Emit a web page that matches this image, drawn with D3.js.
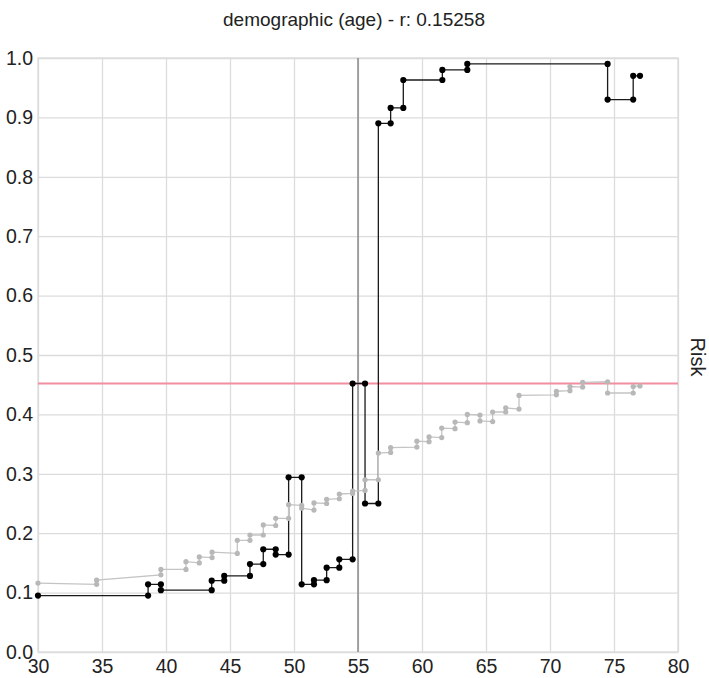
<!DOCTYPE html>
<html>
<head>
<meta charset="utf-8">
<script src="https://cdn.jsdelivr.net/npm/d3@7"></script>
<style>
  body { margin: 0; background: #fff; }
  text { font-family: "Liberation Sans", Arial, Helvetica, sans-serif; }
</style>
</head>
<body>
<div id="chart"></div>
<script>
let title = "demographic (age) - r: 0.15258";
let yLabel = "Risk";

let xTicks = [30, 35, 40, 45, 50, 55, 60, 65, 70, 75, 80];
let yTicks = [0, 0.1, 0.2, 0.3, 0.4, 0.5, 0.6, 0.7, 0.8, 0.9, 1.0];

let threshold = 55;
let baseRisk = 0.452;

// black step series (vertices)
let blackX = [30, 38.6, 38.6, 39.6, 39.6, 43.57, 43.57, 44.55, 44.55, 46.56, 46.56, 47.6, 47.6, 48.57, 48.57,
              49.58, 49.58, 50.6, 50.6, 51.56, 51.56, 52.55, 52.55, 53.54, 53.54, 54.58, 54.58, 55.55, 55.55,
              56.59, 56.59, 57.55, 57.55, 58.54, 58.54, 61.59, 61.59, 63.54, 63.54, 74.5, 74.5, 76.5, 76.5, 77.03];
let blackY = [0.095, 0.095, 0.114, 0.114, 0.104, 0.104, 0.12, 0.12, 0.128, 0.128, 0.148, 0.148, 0.173, 0.173, 0.164,
              0.164, 0.294, 0.294, 0.114, 0.114, 0.121, 0.121, 0.142, 0.142, 0.156, 0.156, 0.452, 0.452, 0.25,
              0.25, 0.89, 0.89, 0.916, 0.916, 0.963, 0.963, 0.98, 0.98, 0.99, 0.99, 0.93, 0.93, 0.97, 0.97];

// grey series (vertices)
let greyX = [30, 34.58, 34.58, 39.6, 39.6, 41.56, 41.56, 42.6, 42.6, 43.6, 43.6, 45.57, 45.57, 46.56, 46.56,
             47.6, 47.6, 48.57, 48.57, 49.58, 49.58, 50.6, 50.6, 51.56, 51.56, 52.55, 52.55, 53.54, 53.54,
             54.58, 54.58, 55.55, 55.55, 56.59, 56.59, 57.55, 57.55, 59.6, 59.6, 60.55, 60.55, 61.54, 61.54,
             62.58, 62.58, 63.54, 63.54, 64.53, 64.53, 65.52, 65.52, 66.54, 66.54, 67.58, 67.58, 70.5, 70.5,
             71.56, 71.56, 72.55, 72.55, 74.5, 74.5, 76.5, 76.5, 77.03];
let greyY = [0.116, 0.114, 0.121, 0.13, 0.139, 0.139, 0.152, 0.15, 0.16, 0.159, 0.168, 0.166, 0.188, 0.188, 0.197,
             0.197, 0.214, 0.213, 0.225, 0.225, 0.248, 0.247, 0.242, 0.239, 0.251, 0.25, 0.257, 0.258, 0.266,
             0.267, 0.271, 0.272, 0.29, 0.29, 0.335, 0.336, 0.344, 0.345, 0.355, 0.354, 0.362, 0.361, 0.377,
             0.376, 0.387, 0.386, 0.4, 0.399, 0.389, 0.388, 0.404, 0.404, 0.411, 0.409, 0.432, 0.433, 0.439,
             0.44, 0.447, 0.446, 0.454, 0.455, 0.436, 0.436, 0.447, 0.448];

let props = {
  width: 709,
  height: 678,
  margins: {t: 58, r: 31, b: 26, l: 38}
};

function draw_series(selection, xs, ys, scales, style){
  let pts = xs.map((x, i) => [x, ys[i]]);
  let line = d3.line()
               .x(d => scales.xScale(d[0]))
               .y(d => scales.yScale(d[1]));

  let g = selection.append("g");
  g.append("path")
   .attr("d", line(pts))
   .attr("fill", "none")
   .attr("stroke", style.line)
   .attr("stroke-width", style.width);

  g.selectAll("circle")
   .data(pts)
   .enter()
   .append("circle")
   .attr("cx", d => scales.xScale(d[0]))
   .attr("cy", d => scales.yScale(d[1]))
   .attr("r", style.r)
   .attr("fill", style.dot);
}

function chart(elem, props){
  let width = props.width - (props.margins.l + props.margins.r);
  let height = props.height - (props.margins.t + props.margins.b);

  let svg = d3.select(elem)
              .append("svg")
              .attr("width", props.width)
              .attr("height", props.height);

  svg.append("rect").attr("width", props.width).attr("height", props.height).attr("fill", "#fff");

  let xScale = d3.scaleLinear().domain([30, 80]).range([0, width]);
  let yScale = d3.scaleLinear().domain([0, 1]).range([height, 0]);

  let root_g = svg.append("g")
                  .attr("transform", `translate(${props.margins.l}, ${props.margins.t})`);

  // grid + axes
  let xAxis = d3.axisBottom(xScale)
                .tickValues(xTicks)
                .tickFormat(d3.format("d"))
                .tickSizeInner(-height)
                .tickSizeOuter(0)
                .tickPadding(7);
  let yAxis = d3.axisLeft(yScale)
                .tickValues(yTicks)
                .tickFormat(d3.format(".1f"))
                .tickSizeInner(-width)
                .tickSizeOuter(0)
                .tickPadding(5);

  root_g.append("g")
        .attr("transform", `translate(0, ${height})`)
        .call(xAxis)
        .call(g => g.select(".domain").remove());
  root_g.append("g")
        .call(yAxis)
        .call(g => g.select(".domain").remove());

  root_g.selectAll(".tick line").attr("stroke", "#dcdcdc").attr("stroke-width", 1.3);
  root_g.selectAll(".tick text")
        .attr("fill", "#222")
        .style("font-size", "19.5px")
        .style("font-family", "'Liberation Sans', Arial, Helvetica, sans-serif");

  root_g.append("rect")
        .attr("width", width)
        .attr("height", height)
        .attr("fill", "none")
        .attr("stroke", "#dcdcdc")
        .attr("stroke-width", 1.3);

  // threshold line
  root_g.append("line")
        .attr("x1", xScale(threshold)).attr("x2", xScale(threshold))
        .attr("y1", 0).attr("y2", height)
        .attr("stroke", "#8a8a8a")
        .attr("stroke-width", 1.5);

  // base risk line
  root_g.append("line")
        .attr("x1", 0).attr("x2", width)
        .attr("y1", yScale(baseRisk)).attr("y2", yScale(baseRisk))
        .attr("stroke", "#f28ea0")
        .attr("stroke-width", 2);

  let scales = {xScale: xScale, yScale: yScale};
  root_g.call(draw_series, blackX, blackY, scales, {line: "#1a1a1a", dot: "#000", width: 1.3, r: 3.1});
  root_g.call(draw_series, greyX, greyY, scales, {line: "#c4c4c4", dot: "#b8b8b8", width: 1.3, r: 2.6});

  svg.append("text")
     .attr("x", 354)
     .attr("y", 26)
     .attr("text-anchor", "middle")
     .attr("fill", "#222")
     .style("font-size", "19px")
     .text(title);

  svg.append("text")
     .attr("transform", `translate(691, 357) rotate(90)`)
     .attr("text-anchor", "middle")
     .attr("fill", "#222")
     .style("font-size", "20px")
     .text(yLabel);
}

chart("#chart", props);
</script>
</body>
</html>
